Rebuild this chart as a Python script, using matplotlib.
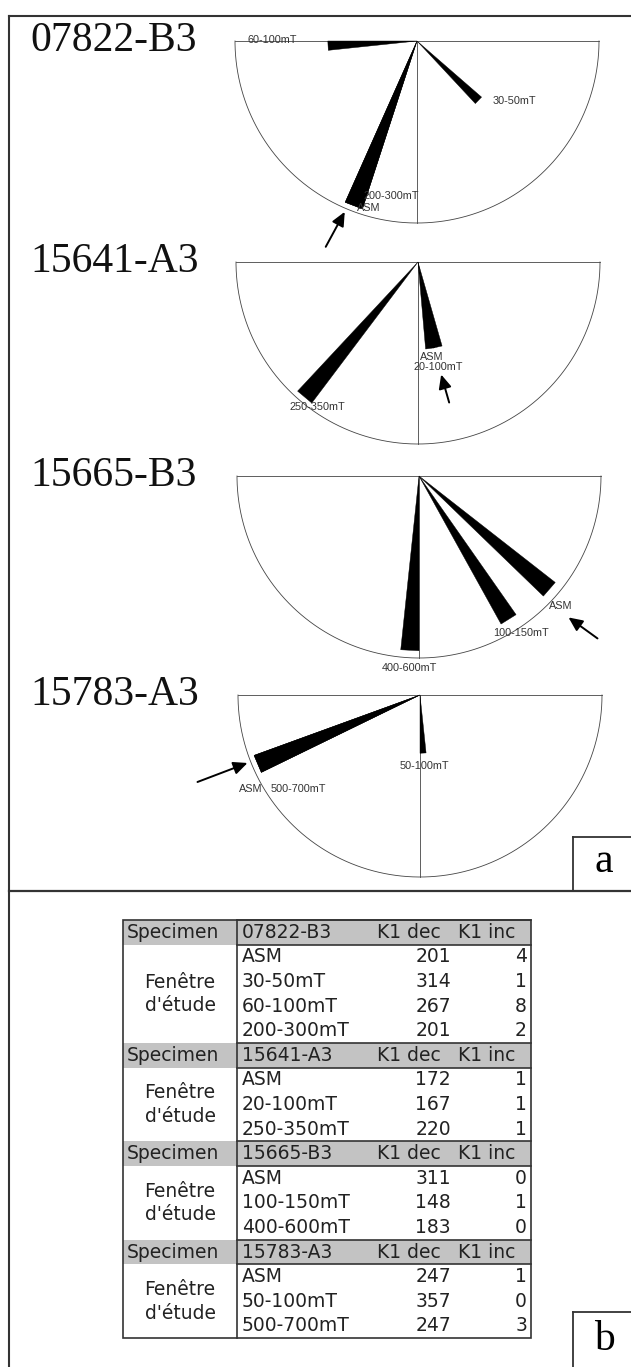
import numpy as np
import matplotlib
matplotlib.use("Agg")
import matplotlib.pyplot as plt
from matplotlib.patches import Polygon, Rectangle

W, H, DPI = 631, 1367, 100

# ── données : axes K1 par fenêtre de désaimantation ──────────────────
specimens = ["07822-B3", "15641-A3", "15665-B3", "15783-A3"]
fenetres = [
    ["ASM", "30-50mT", "60-100mT", "200-300mT"],
    ["ASM", "20-100mT", "250-350mT"],
    ["ASM", "100-150mT", "400-600mT"],
    ["ASM", "50-100mT", "500-700mT"],
]
k1_dec = [[201, 314, 267, 201], [172, 167, 220], [311, 148, 183], [247, 357, 247]]
k1_inc = [[4, 1, 8, 2], [1, 1, 1], [0, 1, 0], [1, 0, 3]]
# longueur des pétales (fraction du rayon)
longueur = [[0.97, 0.47, 0.49, 0.97], [0.48, 0.48, 0.97],
            [0.95, 0.93, 0.96], [0.97, 0.32, 0.97]]

# ── mise en page (pixels) ────────────────────────────────────────────
R = 182
centres = [(417, 41), (418, 262), (419, 476), (420, 695)]
DEMI_ANGLE = 3.0
# position des étiquettes par rapport au centre du diagramme
etiquettes = [
    [(-60, 167), (76, 60), (-170, -1), (-53, 155)],
    [(2, 95), (-4, 105), (-128, 145)],
    [(130, 130), (74, 157), (-37, 192)],
    [(-181, 94), (-20, 71), (-149, 94)],
]
# flèches vers la pointe ASM : (décalage de la tête, vecteur tête->queue)
fleches = [((-9, 6), (-19, 35)), ((11, 26), (8, 28)),
           ((19, 28), (29, 21)), ((-10, -1), (-50, 19))]

SERIF = ["Liberation Serif", "DejaVu Serif"]
SANS = ["Liberation Sans", "DejaVu Sans"]
TAB = ["DejaVu Sans"]
FS_TAB = 13.5
LC = "#333333"


def direction(dec):
    # axe non orienté : on garde l'extrémité dans le demi-cercle sud
    b = dec % 360
    if b < 90 or b >= 270:
        b = (b + 180) % 360
    return b


def point(cx, cy, b, r):
    t = np.radians(b)
    return cx + r * np.sin(t), cy - r * np.cos(t)


fig = plt.figure(figsize=(W / DPI, H / DPI), dpi=DPI)
ax = fig.add_axes([0, 0, 1, 1])
ax.set_xlim(0, W)
ax.set_ylim(H, 0)
ax.set_axis_off()

# cadre général
ax.plot([9, 9], [16, H], color=LC, lw=1.5)
ax.plot([9, W], [16, 16], color=LC, lw=1.5)
ax.plot([9, W], [891, 891], color=LC, lw=1.6)

# ── panneau a : diagrammes en demi-cercle ────────────────────────────
t = np.linspace(0, np.pi, 200)
for i, (cx, cy) in enumerate(centres):
    ax.plot(cx + R * np.cos(t), cy + R * np.sin(t), color="#444444", lw=0.6)
    ax.plot([cx - R, cx + R], [cy, cy], color="#444444", lw=0.6)
    ax.plot([cx, cx], [cy, cy + R], color="#444444", lw=0.6)

    ax.text(30, cy, specimens[i], fontsize=30, family=SERIF,
            ha="left", va="center", color="#111111")

    for j, dec in enumerate(k1_dec[i]):
        b = direction(dec)
        r = longueur[i][j] * R
        p1 = point(cx, cy, b - DEMI_ANGLE, r)
        p2 = point(cx, cy, b + DEMI_ANGLE, r)
        ax.add_patch(Polygon([(cx, cy), p1, p2], closed=True,
                             facecolor="black", edgecolor="black", lw=0.3, zorder=3))
        dx, dy = etiquettes[i][j]
        ax.text(cx + dx, cy + dy, fenetres[i][j], fontsize=7.8, family=SANS,
                ha="left", va="center", color="#333333", zorder=4)

    # flèche pointant l'ASM
    bx, by = point(cx, cy, direction(k1_dec[i][0]), longueur[i][0] * R)
    (hx, hy), (qx, qy) = fleches[i]
    tete = (bx + hx, by + hy)
    queue = (tete[0] + qx, tete[1] + qy)
    ax.annotate("", xy=tete, xytext=queue,
                arrowprops=dict(arrowstyle="-|>,head_length=0.7,head_width=0.32",
                                color="black", lw=1.4, shrinkA=0, shrinkB=0,
                                mutation_scale=12), zorder=5)

# étiquettes de panneau
ax.plot([573, 573], [837, 891], color=LC, lw=1.3)
ax.plot([573, W], [837, 837], color=LC, lw=1.3)
ax.text(604, 862, "a", fontsize=30, family=SERIF, ha="center", va="center")
ax.plot([573, 573], [1312, H], color=LC, lw=1.3)
ax.plot([573, W], [1312, 1312], color=LC, lw=1.3)
ax.text(604, 1340, "b", fontsize=30, family=SERIF, ha="center", va="center")

# ── panneau b : tableau ──────────────────────────────────────────────
x0, x1, xdiv = 123, 531, 237
y0, rh = 920, 24.6
GRIS = "#c3c3c3"
y = y0
for i, spec in enumerate(specimens):
    ax.add_patch(Rectangle((x0, y), x1 - x0, rh, facecolor=GRIS, edgecolor="none", zorder=1))
    ax.plot([xdiv, x1], [y, y], color=LC, lw=1.2, zorder=2)
    ax.plot([xdiv, x1], [y + rh, y + rh], color=LC, lw=1.2, zorder=2)
    yc = y + rh / 2
    ax.text(x0 + 4, yc, "Specimen", fontsize=FS_TAB, family=TAB, ha="left", va="center", color="#222222")
    ax.text(242, yc, spec, fontsize=FS_TAB, family=TAB, ha="left", va="center", color="#222222")
    ax.text(377, yc, "K1 dec", fontsize=FS_TAB, family=TAB, ha="left", va="center", color="#222222")
    ax.text(458, yc, "K1 inc", fontsize=FS_TAB, family=TAB, ha="left", va="center", color="#222222")
    y += rh
    n = len(fenetres[i])
    ymid = y + n * rh / 2
    ax.text((x0 + xdiv) / 2, ymid, "Fenêtre\nd'étude", fontsize=FS_TAB, family=TAB,
            ha="center", va="center", linespacing=1.3, color="#222222")
    for j in range(n):
        yc = y + rh / 2
        ax.text(242, yc, fenetres[i][j], fontsize=FS_TAB, family=TAB, ha="left", va="center", color="#222222")
        ax.text(451, yc, str(k1_dec[i][j]), fontsize=FS_TAB, family=TAB, ha="right", va="center", color="#222222")
        ax.text(527, yc, str(k1_inc[i][j]), fontsize=FS_TAB, family=TAB, ha="right", va="center", color="#222222")
        y += rh
y1 = y
ax.add_patch(Rectangle((x0, y0), x1 - x0, y1 - y0, facecolor="none", edgecolor=LC, lw=1.2, zorder=2))
ax.plot([xdiv, xdiv], [y0, y1], color=LC, lw=1.2, zorder=2)

fig.savefig("out.png", dpi=DPI)
